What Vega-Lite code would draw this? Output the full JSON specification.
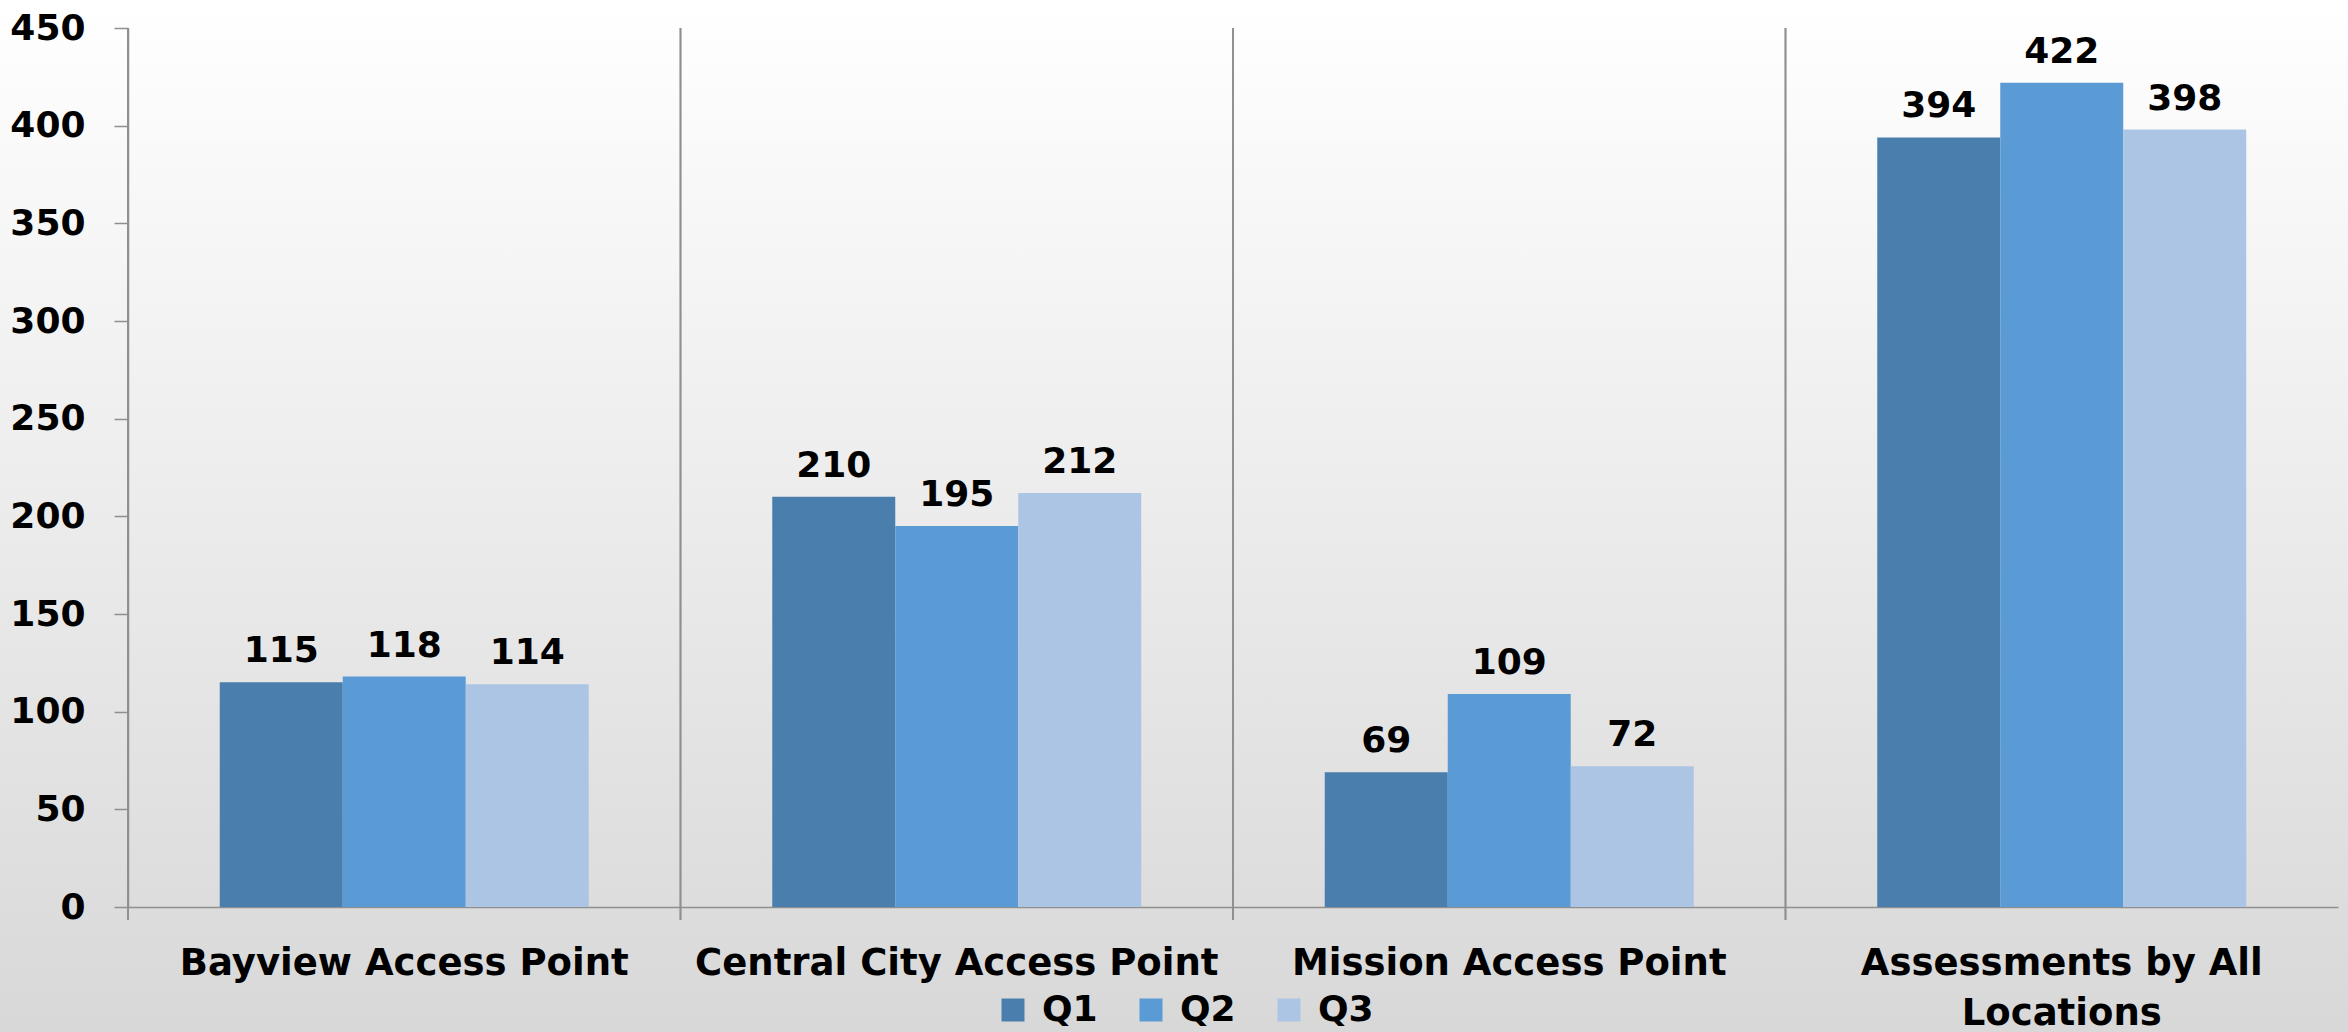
{
  "$schema": "https://vega.github.io/schema/vega-lite/v6.json",
  "width": 2348,
  "height": 1032,
  "autosize": "none",
  "padding": 0,
  "background": "#ffffff",
  "config": {
    "font": "DejaVu Sans",
    "view": {
      "stroke": null,
      "fill": {"gradient": "linear", "x1": 0, "y1": 0, "x2": 0, "y2": 1,
        "stops": [{"offset": 0, "color": "#ffffff"}, {"offset": 1, "color": "#d8d8d8"}]}
    }
  },
  "data": {
    "values": [
      {"location": "Bayview Access Point", "quarter": "Q1", "value": 115},
      {"location": "Bayview Access Point", "quarter": "Q2", "value": 118},
      {"location": "Bayview Access Point", "quarter": "Q3", "value": 114},
      {"location": "Central City Access Point", "quarter": "Q1", "value": 210},
      {"location": "Central City Access Point", "quarter": "Q2", "value": 195},
      {"location": "Central City Access Point", "quarter": "Q3", "value": 212},
      {"location": "Mission Access Point", "quarter": "Q1", "value": 69},
      {"location": "Mission Access Point", "quarter": "Q2", "value": 109},
      {"location": "Mission Access Point", "quarter": "Q3", "value": 72},
      {"location": "Assessments by All Locations", "quarter": "Q1", "value": 394},
      {"location": "Assessments by All Locations", "quarter": "Q2", "value": 422},
      {"location": "Assessments by All Locations", "quarter": "Q3", "value": 398}
    ]
  },
  "layer": [
    {
      "mark": {"type": "bar"},
      "encoding": {
        "x": {
          "field": "location", "type": "nominal",
          "sort": ["Bayview Access Point", "Central City Access Point", "Mission Access Point", "Assessments by All Locations"],
          "scale": {"range": [128, 2338], "paddingInner": 0, "paddingOuter": 0},
          "axis": {
            "title": null, "orient": "bottom", "offset": -125,
            "grid": false,
            "domainColor": "#8f8f8f", "domainWidth": 1.5,
            "ticks": false,
            "labelAngle": 0, "labelFont": "DejaVu Sans", "labelFontWeight": "bold",
            "labelFontSize": 37, "labelColor": "#000000", "labelPadding": 38,
            "labelBaseline": "top", "labelLineHeight": 50, "labelLimit": 0,
            "labelAlign": "center",
            "labelExpr": "datum.label == 'Assessments by All Locations' ? ['Assessments by All', 'Locations'] : datum.label"
          }
        },
        "xOffset": {
          "field": "quarter", "type": "nominal", "sort": ["Q1", "Q2", "Q3"],
          "scale": {"paddingOuter": 0.746, "paddingInner": 0}
        },
        "y": {
          "field": "value", "type": "quantitative",
          "scale": {"domain": [0, 450], "range": [907, 28], "nice": false},
          "axis": {
            "title": null, "orient": "left", "offset": -128,
            "values": [0, 50, 100, 150, 200, 250, 300, 350, 400, 450],
            "grid": false,
            "domainColor": "#8f8f8f", "domainWidth": 1.5,
            "tickColor": "#8f8f8f", "tickWidth": 1.5, "tickSize": 14,
            "labelFont": "DejaVu Sans", "labelFontWeight": "bold", "labelFontSize": 36,
            "labelColor": "#000000", "labelPadding": 29, "labelBaseline": "middle"
          }
        },
        "color": {
          "field": "quarter", "type": "nominal", "sort": ["Q1", "Q2", "Q3"],
          "scale": {"domain": ["Q1", "Q2", "Q3"], "range": ["#4a7ead", "#5b9bd5", "#adc5e5"]},
          "legend": {
            "title": null, "orient": "none", "direction": "horizontal",
            "legendX": 995, "legendY": 992, "padding": 0,
            "symbolType": "square", "symbolSize": 529, "symbolStrokeWidth": 0,
            "labelFont": "DejaVu Sans", "labelFontWeight": "bold", "labelFontSize": 36,
            "labelColor": "#000000", "labelOffset": 11, "columnPadding": 35
          }
        }
      }
    },
    {
      "mark": {"type": "rule", "color": "#8f8f8f", "strokeWidth": 1.5},
      "encoding": {
        "x": {
          "field": "location", "type": "nominal", "bandPosition": 0,
          "sort": ["Bayview Access Point", "Central City Access Point", "Mission Access Point", "Assessments by All Locations"]
        },
        "y": {"datum": 450, "type": "quantitative"},
        "y2": {"datum": -6.7}
      }
    },
    {
      "mark": {"type": "text", "dy": -20, "baseline": "alphabetic", "align": "center",
        "font": "DejaVu Sans", "fontWeight": "bold", "fontSize": 36, "color": "#000000"},
      "encoding": {
        "x": {
          "field": "location", "type": "nominal",
          "sort": ["Bayview Access Point", "Central City Access Point", "Mission Access Point", "Assessments by All Locations"]
        },
        "xOffset": {"field": "quarter", "type": "nominal", "sort": ["Q1", "Q2", "Q3"]},
        "y": {"field": "value", "type": "quantitative"},
        "text": {"field": "value", "type": "quantitative"}
      }
    }
  ]
}
